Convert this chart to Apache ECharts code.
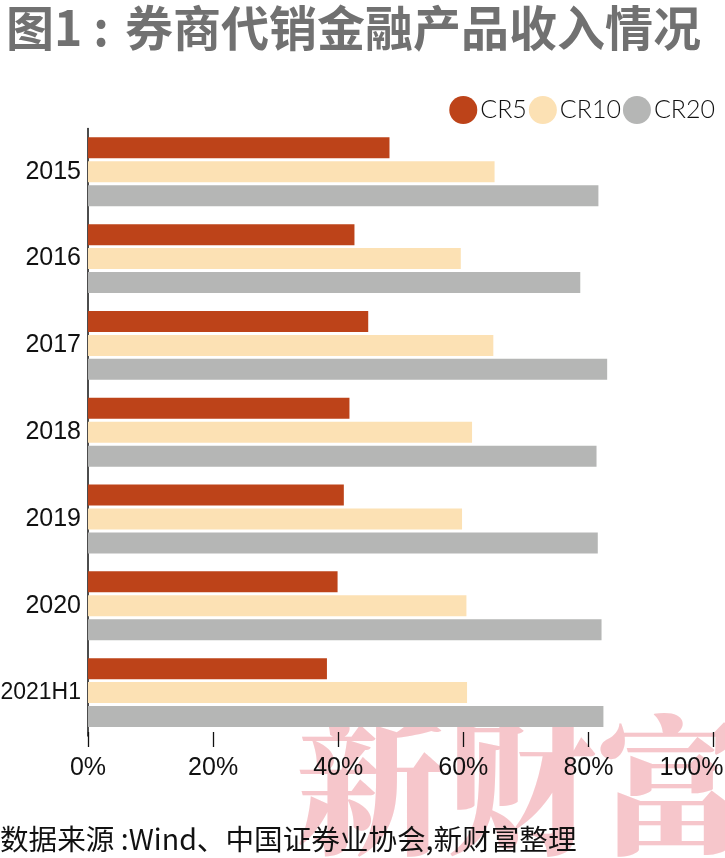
<!DOCTYPE html>
<html>
<head>
<meta charset="utf-8">
<script src="https://cdn.jsdelivr.net/npm/echarts@6/dist/echarts.min.js"></script>
<style>
html,body{margin:0;padding:0;background:#fff;}
#main{width:725px;height:858px;}
</style>
</head>
<body>
<div id="main"></div>
<script>
const categories = ['2015', '2016', '2017', '2018', '2019', '2020', '2021H1'];
const seriesNames = ['CR5', 'CR10', 'CR20'];
const cr5 = [48.2, 42.6, 44.8, 41.8, 40.9, 39.9, 38.2];
const cr10 = [65.0, 59.6, 64.8, 61.4, 59.8, 60.5, 60.6];
const cr20 = [81.6, 78.7, 83.0, 81.3, 81.5, 82.1, 82.4];
const xMin = 0, xMax = 100, xStep = 20;
const titleLead = '图1 :';
const titleMain = '券商代销金融产品收入情况';
const sourceText = '数据来源 :Wind、中国证券业协会,新财富整理';
const watermarkText = '新财富';

const colors = ['#BD4319', '#FCE1B4', '#B5B6B5'];
const narrow = "'Liberation Sans Narrow', 'Liberation Sans', Arial, sans-serif";

const chart = echarts.init(document.getElementById('main'));
const values = [cr5, cr10, cr20];
chart.setOption({
  animation: false,
  backgroundColor: '#ffffff',
  title: {
    text: '{a|' + titleLead + '}{b|' + titleMain + '}',
    left: 1,
    top: -1,
    textStyle: {
      rich: {
        a: { width: 119, fontSize: 48, fontWeight: 'bold', color: '#717171', fontFamily: "'Noto Sans CJK SC', sans-serif" },
        b: { fontSize: 48, fontWeight: 'bold', color: '#717171', fontFamily: "'Noto Sans CJK SC', sans-serif" }
      }
    }
  },
  legend: {
    data: seriesNames,
    right: 5,
    top: 91,
    icon: 'circle',
    itemWidth: 28,
    itemHeight: 28,
    itemGap: 2,
    textStyle: { fontSize: 25, fontWeight: 300, color: '#111', fontFamily: "Lato, 'Noto Sans', sans-serif", padding: [0, 0, 0, -2] }
  },
  graphic: [
    {
      type: 'text',
      left: 296,
      top: 710,
      z: -10,
      silent: true,
      style: {
        text: watermarkText,
        fontSize: 150,
        fontWeight: 900,
        fontFamily: "'Noto Serif CJK SC', 'Noto Sans CJK SC', serif",
        fill: '#F6C6CB'
      }
    },
    {
      type: 'text',
      left: 0,
      top: 825,
      style: {
        text: sourceText,
        fontSize: 28.6,
        fontFamily: "'Noto Sans CJK SC', sans-serif",
        fill: '#111'
      }
    }
  ],
  grid: { left: 88, right: 11.5, top: 128.4, bottom: 122, containLabel: false, outerBoundsMode: 'none' },
  xAxis: {
    type: 'value',
    min: xMin,
    max: xMax,
    interval: xStep,
    offset: -4,
    axisLine: { show: false },
    axisTick: { show: true, length: 15, lineStyle: { color: '#111', width: 1.3 } },
    splitLine: { show: false },
    axisLabel: {
      formatter: function (v) { return v === xMax ? '{last|' + v + '%}' : v + '%'; },
      fontSize: 25,
      color: '#111',
      fontFamily: narrow,
      margin: 24,
      rich: { last: { fontSize: 25, color: '#111', fontFamily: narrow, padding: [0, 44, 0, 0] } }
    }
  },
  yAxis: {
    type: 'category',
    inverse: true,
    data: categories,
    axisLine: { show: true, lineStyle: { color: '#111', width: 1.5 } },
    axisTick: { show: false },
    axisLabel: {
      formatter: function (v) { return v.length > 4 ? '{s|' + v + '}' : v; },
      fontSize: 25, color: '#111', fontFamily: narrow, margin: 7,
      rich: { s: { fontSize: 23, color: '#111', fontFamily: narrow } }
    }
  },
  series: seriesNames.map((n, i) => ({
    name: n,
    type: 'bar',
    data: values[i],
    barWidth: 21,
    barGap: '14%',
    itemStyle: { color: colors[i] }
  }))
});
</script>
</body>
</html>
